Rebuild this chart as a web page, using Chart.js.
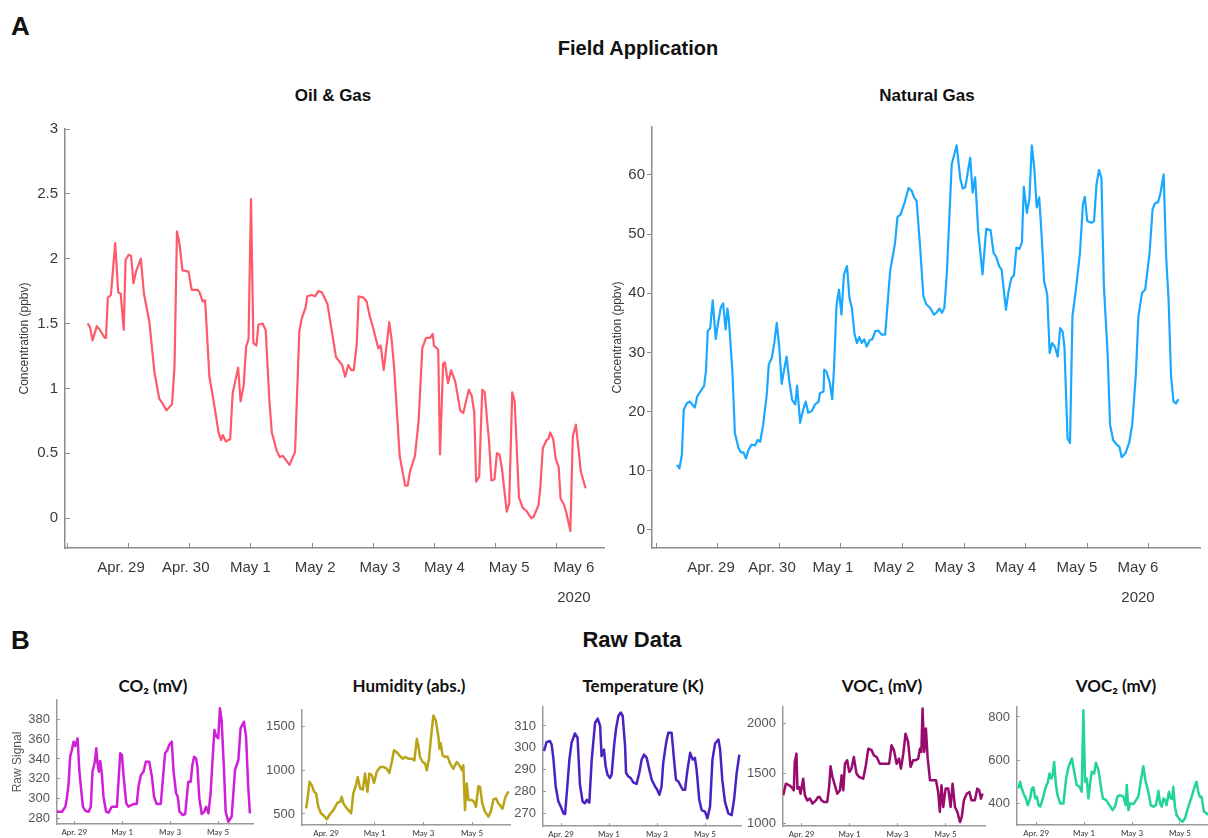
<!DOCTYPE html>
<html><head><meta charset="utf-8">
<script src="https://cdn.jsdelivr.net/npm/chart.js@4.4.1/dist/chart.umd.min.js"></script>
<style>
body{margin:0;background:#fff;overflow:hidden;}
#page{position:relative;width:1208px;height:838px;overflow:hidden;background:#fff;font-family:"Liberation Sans",Arial,sans-serif;}
.t{position:absolute;white-space:nowrap;color:#111;font-weight:bold;line-height:1;}
.c{text-align:center;width:400px;}
.s{font-family:Lato,"Open Sans",sans-serif;font-size:17px;}
canvas{position:absolute;}
</style></head><body><div id="page">
<div class="t" style="left:11px;top:13px;font-size:26px;">A</div>
<div class="t c" style="left:438px;top:38px;font-size:20px;">Field Application</div>
<div class="t c" style="left:133px;top:87px;font-size:17px;">Oil &amp; Gas</div>
<div class="t c" style="left:727px;top:87px;font-size:17px;">Natural Gas</div>
<div class="t" style="left:11px;top:627px;font-size:26px;">B</div>
<div class="t c" style="left:432px;top:629px;font-size:22px;">Raw Data</div>
<div class="t c s" style="left:-47px;top:677px;">CO₂ (mV)</div>
<div class="t c s" style="left:209px;top:677px;">Humidity (abs.)</div>
<div class="t c s" style="left:443px;top:677px;">Temperature (K)</div>
<div class="t c s" style="left:682px;top:677px;">VOC₁ (mV)</div>
<div class="t c s" style="left:916px;top:677px;">VOC₂ (mV)</div>
</div>
<script>
// ---------- main panel data (x = days after Apr. 28, 00:00) ----------
const dayLabels = ['Apr. 29','Apr. 30','May 1','May 2','May 3','May 4','May 5',['May 6','2020']];
const rawDayLabels = ['Apr. 29','May 1','May 3','May 5'];

const oilGasDays = [0.33,0.37,0.41,0.48,0.53,0.61,0.63,0.66,0.71,0.78,0.83,0.87,0.92,0.95,1.00,1.04,1.08,1.12,1.20,1.25,1.34,1.42,1.50,1.56,1.62,1.71,1.75,1.79,1.83,1.88,1.98,2.03,2.13,2.16,2.21,2.25,2.32,2.39,2.47,2.51,2.54,2.59,2.66,2.70,2.79,2.83,2.88,2.92,2.96,3.00,3.04,3.09,3.12,3.19,3.24,3.30,3.34,3.42,3.47,3.52,3.63,3.72,3.79,3.83,3.89,3.92,3.99,4.05,4.10,4.16,4.25,4.39,4.44,4.49,4.54,4.59,4.64,4.68,4.73,4.76,4.84,4.89,4.94,5.00,5.08,5.12,5.17,5.26,5.30,5.34,5.43,5.52,5.56,5.60,5.68,5.74,5.80,5.86,5.93,5.97,5.99,6.06,6.09,6.14,6.17,6.22,6.27,6.34,6.42,6.47,6.56,6.61,6.65,6.68,6.73,6.78,6.82,6.86,6.89,6.93,6.98,7.02,7.06,7.10,7.18,7.22,7.27,7.31,7.38,7.44,7.51,7.58,7.62,7.70,7.73,7.77,7.83,7.86,7.89,7.94,7.98,8.03,8.06,8.11,8.15,8.22,8.26,8.31,8.35,8.39,8.47];
const oilGasValues = [1.50,1.47,1.37,1.48,1.45,1.39,1.39,1.70,1.72,2.12,1.74,1.73,1.45,1.99,2.03,2.02,1.81,1.90,2.00,1.73,1.51,1.13,0.92,0.88,0.83,0.88,1.17,2.21,2.12,1.91,1.90,1.76,1.76,1.74,1.67,1.68,1.09,0.90,0.66,0.60,0.64,0.59,0.61,0.96,1.16,0.90,1.02,1.32,1.38,2.46,1.35,1.33,1.49,1.50,1.45,0.91,0.66,0.52,0.47,0.48,0.41,0.51,1.44,1.54,1.62,1.71,1.72,1.71,1.75,1.74,1.65,1.24,1.21,1.18,1.09,1.18,1.14,1.14,1.35,1.71,1.70,1.67,1.56,1.46,1.31,1.33,1.14,1.51,1.37,1.16,0.48,0.25,0.25,0.36,0.48,0.75,1.31,1.39,1.39,1.42,1.33,1.30,0.49,1.19,1.20,1.04,1.14,1.05,0.83,0.81,0.99,0.94,0.81,0.28,0.32,0.99,0.97,0.75,0.60,0.29,0.30,0.50,0.49,0.39,0.05,0.11,0.97,0.90,0.16,0.08,0.05,0.00,0.01,0.10,0.24,0.54,0.60,0.61,0.66,0.61,0.46,0.39,0.15,0.11,0.05,-0.10,0.63,0.72,0.55,0.36,0.23];

const naturalGasDays = [0.34,0.38,0.42,0.45,0.50,0.55,0.61,0.63,0.67,0.74,0.78,0.81,0.84,0.88,0.92,0.97,1.01,1.05,1.09,1.13,1.16,1.18,1.24,1.28,1.34,1.38,1.42,1.46,1.50,1.55,1.61,1.65,1.69,1.74,1.80,1.83,1.88,1.92,1.96,2.00,2.04,2.08,2.12,2.16,2.21,2.26,2.29,2.34,2.38,2.43,2.47,2.53,2.58,2.64,2.66,2.72,2.73,2.77,2.82,2.86,2.89,2.93,2.97,3.01,3.05,3.10,3.14,3.18,3.22,3.26,3.30,3.34,3.38,3.42,3.47,3.51,3.56,3.61,3.66,3.72,3.80,3.88,3.92,3.97,4.04,4.10,4.15,4.19,4.23,4.29,4.34,4.39,4.45,4.51,4.55,4.60,4.64,4.68,4.72,4.80,4.88,4.94,4.98,5.02,5.10,5.14,5.18,5.23,5.30,5.36,5.43,5.48,5.52,5.57,5.61,5.68,5.72,5.77,5.81,5.85,5.90,5.94,5.97,6.02,6.06,6.10,6.14,6.18,6.22,6.26,6.30,6.35,6.39,6.43,6.48,6.52,6.56,6.60,6.63,6.68,6.72,6.76,6.81,6.88,6.93,6.96,7.00,7.07,7.11,7.15,7.19,7.23,7.27,7.33,7.37,7.42,7.48,7.52,7.56,7.62,7.68,7.73,7.79,7.83,7.89,7.94,8.01,8.06,8.10,8.15,8.19,8.24,8.28,8.32,8.36,8.40,8.44,8.48];
const naturalGasValues = [11.0,10.4,12.7,20.3,21.4,21.7,20.9,20.7,22.6,23.7,24.3,26.8,33.6,34.1,38.8,32.3,35.1,37.5,38.3,33.9,37.4,35.9,26.8,16.4,13.8,13.1,13.1,12.1,13.5,14.4,14.3,15.2,14.9,17.8,23.1,27.9,29.1,31.6,35.0,31.0,24.7,27.1,29.3,25.4,22.0,21.2,24.4,18.1,20.0,21.7,19.8,20.1,21.2,21.7,23.1,23.4,27.1,26.7,24.9,22.1,27.4,38.0,40.6,36.4,43.1,44.6,39.2,37.5,33.3,31.6,32.6,31.6,32.2,31.0,32.1,32.2,33.6,33.7,33.0,33.0,43.7,48.5,52.9,53.3,55.5,57.8,57.3,56.2,55.6,47.4,39.5,38.1,37.5,36.4,36.7,37.4,36.7,37.5,43.2,61.8,65.0,59.3,57.7,57.9,62.9,57.0,59.6,50.5,43.2,50.9,50.7,46.8,46.2,44.6,44.0,37.2,40.2,42.6,43.0,47.7,47.5,48.6,58.0,53.6,55.9,65.0,61.2,54.5,56.2,49.7,42.0,39.8,29.9,31.6,30.8,29.3,34.1,33.5,30.8,15.5,14.7,36.2,40.1,46.6,55.0,56.3,52.2,51.9,52.2,58.4,60.8,59.5,41.2,29.9,17.8,15.2,14.4,14.1,12.3,13.0,14.7,17.8,26.5,36.1,40.1,40.6,46.6,54.2,55.2,55.4,57.0,60.1,46.3,38.9,26.0,21.7,21.4,22.1];

// ---------- raw data panels ----------
const co2Days = [0.28,0.49,0.63,0.69,0.76,0.83,0.90,0.97,1.04,1.14,1.21,1.29,1.36,1.46,1.60,1.69,1.76,1.85,1.92,1.97,2.03,2.08,2.15,2.22,2.33,2.43,2.57,2.78,2.92,2.99,3.06,3.17,3.26,3.47,3.61,3.68,3.78,3.89,3.99,4.13,4.24,4.33,4.44,4.61,4.72,4.79,4.89,4.96,5.07,5.14,5.25,5.32,5.39,5.53,5.63,5.76,5.86,5.93,6.00,6.08,6.14,6.22,6.32,6.43,6.50,6.60,6.69,6.78,6.85,6.92,7.01,7.08,7.15,7.25,7.32,7.43,7.57,7.71,7.85,7.94,8.08,8.17,8.26,8.33];
const co2Values = [286.7,286.7,291.8,300.2,313.7,342.3,349.0,357.4,353.1,360.8,328.8,308.6,291.8,287.7,286.7,291.8,327.1,336.2,350.7,335.6,327.1,338.0,325.5,301.9,286.7,285.7,291.8,291.8,345.7,344.0,322.1,295.2,291.8,294.5,294.5,312.0,323.8,327.1,337.2,337.2,322.1,301.9,294.5,294.5,325.5,345.7,349.0,354.1,357.4,328.8,305.3,301.9,286.7,283.4,284.4,317.0,317.0,333.9,342.3,340.6,332.2,300.2,284.4,286.7,291.8,285.1,305.3,342.3,369.2,363.2,360.8,391.1,379.3,328.8,286.7,276.6,281.7,328.8,338.9,370.9,377.6,362.5,312.0,285.0];

const humidityDays = [0.18,0.23,0.32,0.41,0.51,0.59,0.68,0.79,0.92,1.03,1.16,1.30,1.47,1.58,1.64,1.71,1.85,2.03,2.12,2.23,2.30,2.40,2.51,2.60,2.70,2.78,2.88,2.97,3.08,3.22,3.36,3.49,3.60,3.70,3.79,3.90,4.01,4.15,4.25,4.38,4.52,4.63,4.73,4.79,4.86,4.97,5.07,5.14,5.23,5.30,5.41,5.51,5.62,5.66,5.71,5.79,5.89,5.99,6.10,6.23,6.37,6.48,6.58,6.64,6.71,6.78,6.85,6.99,7.08,7.16,7.26,7.33,7.42,7.53,7.67,7.77,7.88,7.99,8.08,8.15,8.25,8.38,8.50];
const humidityValues = [564,659,868,830,754,735,583,508,477,439,500,545,629,640,697,621,564,508,735,830,924,792,780,962,754,962,943,856,981,1038,1038,1019,970,1095,1228,1209,1171,1133,1152,1133,1133,1114,1360,1285,1152,1095,1076,1000,1133,1341,1626,1569,1379,1247,1311,1171,1152,1159,1076,1019,1095,1057,1000,1057,545,849,659,659,640,583,818,810,621,527,470,527,667,678,621,600,560,700,760];

const temperatureDays = [0.29,0.40,0.54,0.61,0.68,0.78,0.89,0.99,1.10,1.17,1.24,1.35,1.44,1.58,1.69,1.79,1.90,1.99,2.07,2.18,2.28,2.42,2.53,2.63,2.69,2.79,2.86,2.94,3.04,3.11,3.21,3.29,3.39,3.49,3.57,3.67,3.71,3.81,3.90,4.01,4.15,4.26,4.36,4.46,4.57,4.68,4.78,4.92,5.01,5.10,5.19,5.26,5.38,5.47,5.61,5.71,5.79,5.89,5.96,6.07,6.17,6.26,6.38,6.49,6.58,6.65,6.76,6.86,7.00,7.10,7.21,7.31,7.42,7.56,7.63,7.72,7.83,7.97,8.11,8.21,8.32,8.43];
const temperatureValues = [298.5,302.6,303.1,301.5,295.4,282.3,275.4,273.1,270.0,269.7,279.2,294.6,302.3,306.6,304.6,283.1,275.4,274.6,276.2,274.9,294.6,311.5,313.4,310.0,296.2,299.2,291.5,287.7,286.2,287.7,300.8,308.5,314.6,316.2,314.6,300.8,288.5,286.9,286.2,284.2,283.5,288.5,294.6,296.9,295.4,290.0,285.4,282.3,280.8,278.5,282.3,293.1,302.3,306.9,306.9,294.6,285.4,284.6,283.1,280.8,280.8,289.2,297.7,294.6,295.4,290.0,276.2,271.5,270.8,267.7,273.1,294.6,302.0,303.8,299.2,285.4,275.4,270.0,269.2,276.2,288.5,296.9];

const voc1Days = [0.24,0.35,0.49,0.58,0.68,0.72,0.79,0.83,0.90,0.96,1.07,1.14,1.24,1.35,1.46,1.60,1.69,1.76,1.83,1.93,2.07,2.15,2.21,2.29,2.39,2.49,2.60,2.67,2.74,2.81,2.90,2.99,3.08,3.18,3.29,3.40,3.57,3.68,3.78,3.92,4.01,4.13,4.26,4.47,4.65,4.75,4.85,4.96,5.06,5.14,5.24,5.33,5.44,5.54,5.65,5.75,5.86,5.93,5.99,6.04,6.11,6.18,6.25,6.35,6.49,6.60,6.69,6.76,6.83,6.90,7.00,7.11,7.21,7.29,7.39,7.49,7.60,7.67,7.76,7.88,7.99,8.08,8.22,8.32,8.40,8.47,8.54];
const voc1Values = [1279,1396,1379,1362,1329,1614,1698,1346,1362,1295,1446,1279,1228,1245,1195,1228,1262,1262,1228,1211,1211,1362,1571,1463,1379,1295,1329,1480,1329,1597,1631,1513,1547,1664,1497,1463,1446,1581,1748,1732,1681,1664,1597,1597,1597,1782,1732,1597,1648,1547,1698,1899,1815,1564,1631,1631,1648,1748,1715,2151,1715,1950,1664,1430,1430,1430,1312,1111,1379,1161,1346,1346,1161,1396,1161,1111,1010,1060,1228,1295,1312,1228,1228,1346,1330,1245,1295];

const voc2Days = [0.26,0.33,0.40,0.47,0.57,0.65,0.75,0.82,0.89,0.96,1.03,1.10,1.17,1.28,1.38,1.49,1.56,1.63,1.69,1.75,1.82,1.89,2.00,2.14,2.25,2.35,2.49,2.60,2.69,2.81,2.90,2.97,3.04,3.11,3.18,3.25,3.32,3.42,3.49,3.60,3.69,3.78,3.92,4.06,4.19,4.29,4.39,4.50,4.64,4.74,4.78,4.85,4.92,5.06,5.17,5.26,5.36,5.47,5.57,5.68,5.78,5.89,6.00,6.10,6.17,6.24,6.31,6.38,6.44,6.54,6.61,6.68,6.72,6.79,6.86,7.00,7.11,7.21,7.35,7.49,7.63,7.69,7.76,7.83,7.90,8.00,8.11,8.17,8.30,8.45];
const voc2Values = [469,500,469,446,423,392,423,469,474,423,431,392,385,423,469,500,538,515,531,592,492,438,400,400,515,569,608,538,485,477,454,831,500,515,423,492,546,538,588,554,485,423,415,392,369,385,431,438,431,392,485,369,400,397,415,431,500,572,500,454,392,385,392,458,400,385,423,415,392,454,423,420,477,385,346,323,315,331,385,431,485,500,454,431,431,362,354,346,350,360];

// ---------- helpers ----------
const page = document.getElementById('page');
const fam = "'Liberation Sans', Arial, sans-serif";
const zip = (xs, ys) => xs.map((x, i) => ({x: x, y: ys[i]}));
const range = (a, b, s) => { const r = []; for (let v = a; v <= b + 1e-9; v += s) r.push(+v.toFixed(6)); return r; };

function panel(o) {
  const cv = document.createElement('canvas');
  const cl = o.L - o.yW, ct = o.T - o.padT;
  const cw = o.R + o.padR - cl, ch = o.B + o.xH - ct;
  Object.assign(cv.style, {left: cl + 'px', top: ct + 'px', width: cw + 'px', height: ch + 'px'});
  cv.width = cw; cv.height = ch;
  page.appendChild(cv);
  const axisColor = o.axisColor || '#8c8c8c';
  const scales = {
    x: {
      type: 'linear', position: 'bottom', weight: 0, min: o.x.min, max: o.x.max,
      afterBuildTicks: s => { s.ticks = o.x.ticks.map(v => ({value: v})); },
      afterFit: s => { s.height = o.x.h; },
      grid: {display: true, drawOnChartArea: false, drawTicks: true, tickLength: o.x.tl, color: axisColor, lineWidth: 1},
      border: {display: true, color: axisColor, width: o.bw},
      ticks: o.x.labels ? {display: true, autoSkip: false, maxRotation: 0, minRotation: 0, padding: o.x.pad,
        color: o.x.color, font: o.x.font, callback: (v, i) => o.x.labels[i]} : {display: false}
    },
    y: {
      type: 'linear', position: 'left', min: o.y.min, max: o.y.max,
      afterBuildTicks: s => { s.ticks = o.y.ticks.map(v => ({value: v})); },
      afterFit: s => { s.width = o.yW; },
      grid: {display: true, drawOnChartArea: false, drawTicks: true, tickLength: o.y.tl, color: axisColor, lineWidth: 1},
      border: {display: true, color: axisColor, width: o.bw},
      ticks: {display: true, autoSkip: false, padding: o.y.pad, color: o.y.color, font: o.y.font, callback: v => String(v)},
      title: o.y.title ? {display: true, text: o.y.title, color: o.y.titleColor, font: o.y.titleFont, padding: {top: 0, bottom: 0}} : {display: false}
    }
  };
  if (o.xl) {
    scales.xl = {
      type: 'linear', position: 'bottom', weight: 1, min: o.xl.min, max: o.xl.max,
      afterBuildTicks: s => { s.ticks = o.xl.ticks.map(v => ({value: v})); },
      afterFit: s => { s.height = o.xl.h; },
      grid: {display: false, drawTicks: false},
      border: {display: false},
      ticks: {display: true, autoSkip: false, maxRotation: 0, minRotation: 0, padding: o.xl.pad,
        color: o.xl.color, font: o.xl.font, callback: (v, i) => o.xl.labels[i]}
    };
  }
  return new Chart(cv, {
    type: 'line',
    data: {datasets: [{data: zip(o.days, o.values), borderColor: o.color, borderWidth: o.lw,
      pointRadius: 0, tension: 0, fill: false, xAxisID: 'x', yAxisID: 'y', borderJoinStyle: 'round'}]},
    options: {
      responsive: false, animation: false, devicePixelRatio: 1, events: [],
      layout: {padding: {top: o.padT, right: o.padR, left: 0, bottom: 0}},
      plugins: {legend: {display: false}, tooltip: {enabled: false}, title: {display: false}},
      scales: scales
    }
  });
}

const mainTickFont = {family: fam, size: 15};
const mainLabelFont = {family: fam, size: 15, lineHeight: 2};
const mainTitleFont = {family: fam, size: 12};
const textCol = '#3a3a3a';

// Oil & Gas
panel({
  L: 65, T: 129, R: 604, B: 548, yW: 48, padT: 26, padR: 6, xH: 60, bw: 1.5,
  days: oilGasDays, values: oilGasValues, color: '#ff5a6b', lw: 2.2,
  x: {min: -0.04, max: 8.77, ticks: range(0, 8, 1), tl: -5, h: 0},
  xl: {min: 0.134, max: 8.465, ticks: range(1, 8, 1), labels: dayLabels, pad: 5, h: 60, color: textCol, font: mainLabelFont},
  y: {min: -0.231, max: 3, ticks: range(0, 3, 0.5), tl: -5, pad: 12, color: textCol, font: mainTickFont,
      title: 'Concentration (ppbv)', titleColor: textCol, titleFont: mainTitleFont}
});

// Natural Gas
panel({
  L: 652, T: 127, R: 1200, B: 548, yW: 42, padT: 26, padR: 6, xH: 60, bw: 1.5,
  days: naturalGasDays, values: naturalGasValues, color: '#1aa8ff', lw: 2.2,
  x: {min: -0.065, max: 8.83, ticks: range(0, 8, 1), tl: -5, h: 0},
  xl: {min: 0.033, max: 9.016, ticks: range(1, 8, 1), labels: dayLabels, pad: 5, h: 60, color: textCol, font: mainLabelFont},
  y: {min: -3.05, max: 68.1, ticks: range(0, 60, 10), tl: 5, pad: 2, color: textCol, font: mainTickFont,
      title: 'Concentration (ppbv)', titleColor: textCol, titleFont: mainTitleFont}
});

// Raw data panels (canvas may extend below the page edge; it is clipped there)
const rawTickFont = {family: fam, size: 13};
const rawXFont = {family: "Lato, 'Open Sans', sans-serif", size: 8};
const rawText = '#555555';
function rawPanel(p) {
  panel({
    L: p.L, T: p.T, R: p.R, B: p.B, yW: p.yW, padT: 22, padR: p.padR, xH: 24, bw: 1.5, axisColor: '#999999',
    days: p.days, values: p.values, color: p.color, lw: 2.5,
    x: {min: p.xmin, max: p.xmax, ticks: [1, 3, 5, 7], labels: rawDayLabels, tl: -3, pad: 7, h: 24, color: '#333333', font: rawXFont},
    y: {min: p.ymin, max: p.ymax, ticks: p.yticks, tl: -3, pad: 10, color: rawText, font: rawTickFont,
        title: p.ytitle, titleColor: rawText, titleFont: {family: fam, size: 12}}
  });
}
rawPanel({L: 57, T: 700, R: 253, B: 824, yW: 47, padR: 2, xmin: 0.28, xmax: 8.46, ymin: 274.3, ymax: 399.5,
  yticks: range(280, 380, 20), days: co2Days, values: co2Values, color: '#d01fd8', ytitle: 'Raw Signal'});
rawPanel({L: 302, T: 710, R: 510, B: 825, yW: 48, padR: 2, xmin: 0.01, xmax: 8.56, ymin: 374, ymax: 1690,
  yticks: [500, 1000, 1500], days: humidityDays, values: humidityValues, color: '#b9a316'});
rawPanel({L: 543, T: 707, R: 741, B: 826, yW: 40, padR: 2, xmin: 0.25, xmax: 8.5, ymin: 264.2, ymax: 318.7,
  yticks: range(270, 310, 10), days: temperatureDays, values: temperatureValues, color: '#4b22c2'});
rawPanel({L: 783, T: 707, R: 985, B: 826, yW: 45, padR: 2, xmin: 0.23, xmax: 8.64, ymin: 970, ymax: 2167,
  yticks: [1000, 1500, 2000], days: voc1Days, values: voc1Values, color: '#980a6e'});
rawPanel({L: 1017, T: 707, R: 1208, B: 825, yW: 40, padR: 0, xmin: 0.2, xmax: 8.17, ymin: 300, ymax: 846,
  yticks: [400, 600, 800], days: voc2Days, values: voc2Values, color: '#22d39a'});
</script>
</body></html>
